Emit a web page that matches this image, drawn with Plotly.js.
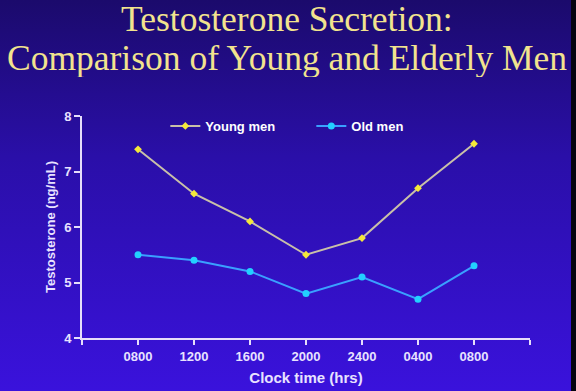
<!DOCTYPE html>
<html>
<head>
<meta charset="utf-8">
<script src="https://cdn.plot.ly/plotly-3.0.1.min.js"></script>
<style>
html,body{margin:0;padding:0;width:576px;height:391px;overflow:hidden;}
body{background:linear-gradient(to bottom,#1b0a6c 0%,#2a0fa8 40%,#3a12dc 100%);}
#chart{width:576px;height:391px;}
#edge{position:absolute;right:0;top:0;width:5px;height:391px;background:#050310;}
</style>
</head>
<body>
<div id="chart"></div>
<div id="edge"></div>
<script>
var clockTimes = ["0800", "1200", "1600", "2000", "2400", "0400", "0800"];
var youngMen = [7.4, 6.6, 6.1, 5.5, 5.8, 6.7, 7.5];
var oldMen = [5.5, 5.4, 5.2, 4.8, 5.1, 4.7, 5.3];
var titleLines = ["Testosterone Secretion:", "Comparison of Young and Elderly Men"];

var positions = clockTimes.map(function(_, i){ return i + 1; });
var tickVals = [0].concat(positions).concat([clockTimes.length + 1]);
var tickText = [""].concat(clockTimes).concat([""]);

var traces = [
  {
    x: positions, y: youngMen, name: "Young men", type: "scatter", mode: "lines+markers",
    line: {color: "#c9c0a8", width: 2},
    marker: {color: "#f4e83a", size: 6, symbol: "diamond"}
  },
  {
    x: positions, y: oldMen, name: "Old men", type: "scatter", mode: "lines+markers",
    line: {color: "#3aa0ff", width: 2},
    marker: {color: "#22d0ff", size: 7, symbol: "circle"}
  }
];

var axisColor = "#e6defa";
var sans = "Liberation Sans, Arial, sans-serif";
var titleFont = {family: "Liberation Serif, Times New Roman, serif", size: 35.5, color: "#f2e38e"};
var layout = {
  width: 576, height: 391,
  paper_bgcolor: "rgba(0,0,0,0)",
  plot_bgcolor: "rgba(0,0,0,0)",
  margin: {l: 82, r: 46, t: 116, b: 53},
  showlegend: true,
  legend: {
    orientation: "h", x: 0.186, y: 0.955, xanchor: "left", yanchor: "middle",
    font: {family: sans, size: 13, color: "#ffffff", weight: "bold"},
    bgcolor: "rgba(0,0,0,0)", itemwidth: 30, entrywidth: 101, entrywidthmode: "pixels"
  },
  annotations: [
    {text: titleLines[0], xref: "paper", yref: "paper", x: 0.457, y: 1.437,
     xanchor: "center", yanchor: "middle", showarrow: false, font: titleFont, height: 38},
    {text: titleLines[1], xref: "paper", yref: "paper", x: 0.457, y: 1.263,
     xanchor: "center", yanchor: "middle", showarrow: false, font: titleFont, height: 38}
  ],
  xaxis: {
    range: [0, clockTimes.length + 1],
    tickmode: "array", tickvals: tickVals, ticktext: tickText,
    showgrid: false, zeroline: false,
    showline: true, linecolor: axisColor, linewidth: 2,
    ticks: "outside", tickcolor: axisColor, ticklen: 5, tickwidth: 2,
    tickfont: {family: sans, size: 13, color: "#e8e2ff", weight: "bold"},
    title: {text: "Clock time (hrs)", standoff: 10,
      font: {family: sans, size: 15, color: "#e8e2ff", weight: "bold"}}
  },
  yaxis: {
    range: [4, 8], dtick: 1,
    showgrid: false, zeroline: false,
    showline: true, linecolor: axisColor, linewidth: 2,
    ticks: "outside", tickcolor: axisColor, ticklen: 6, tickwidth: 2,
    tickfont: {family: sans, size: 13, color: "#e8e2ff", weight: "bold"},
    title: {text: "Testosterone (ng/mL)", standoff: 6,
      font: {family: sans, size: 13, color: "#e8e2ff", weight: "bold"}}
  }
};

Plotly.newPlot("chart", traces, layout, {displayModeBar: false, staticPlot: true});
</script>
</body>
</html>
